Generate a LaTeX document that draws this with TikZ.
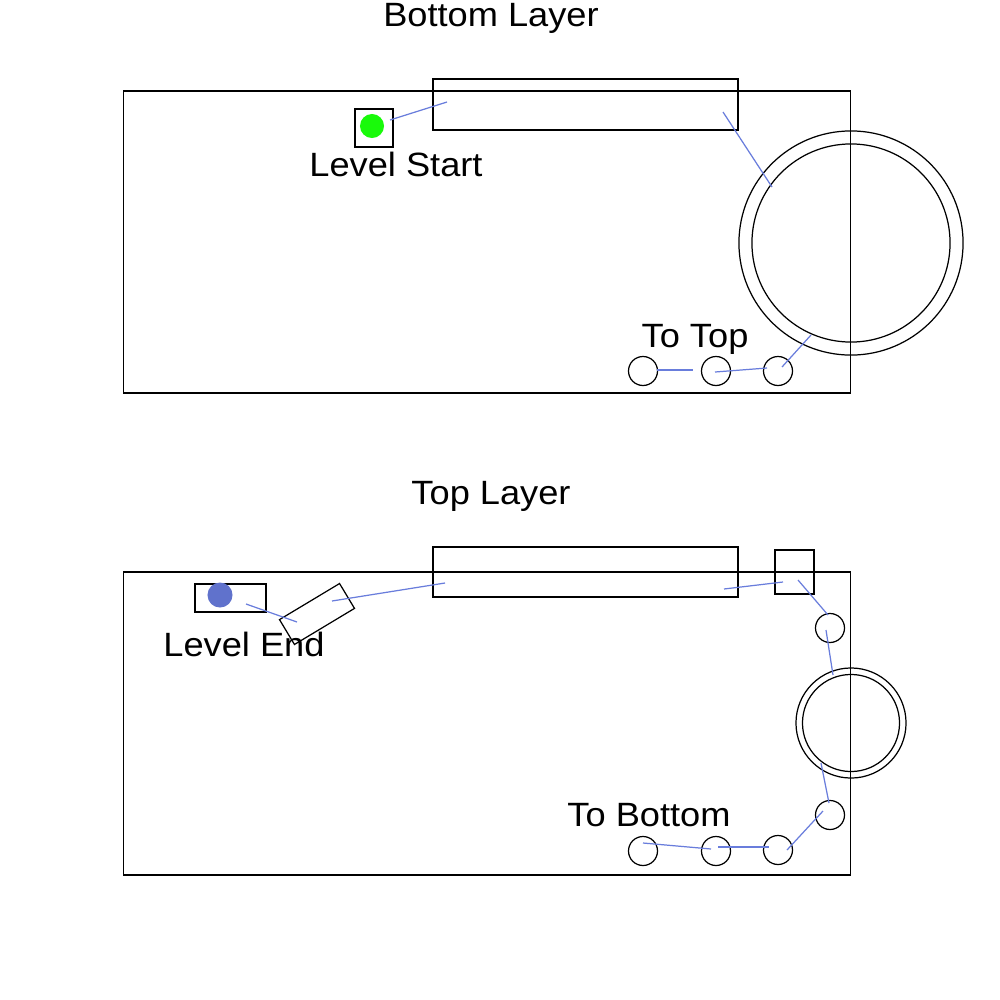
\documentclass[tikz,border=0pt]{standalone}
\usepackage{fontspec}
\setmainfont{Liberation Sans}
\definecolor{linkblue}{RGB}{105,125,220}
\definecolor{startgreen}{RGB}{25,250,10}
\definecolor{endblue}{RGB}{96,114,204}
\newcommand{\lbltext}[1]{\scalebox{1}[0.93]{#1}}
\begin{document}
\begin{tikzpicture}[x=0.01cm,y=-0.01cm,
  box/.style={draw,line width=0.35pt,inner sep=0pt,outer sep=0pt},
  ring/.style={draw,circle,line width=0.35pt,inner sep=0pt,outer sep=0pt},
  dot/.style={fill,circle,inner sep=0pt,minimum size=#1},
  lbl/.style={inner sep=0pt,anchor=base,font=\fontsize{10.3}{12}\selectfont},
  link/.style={draw=linkblue,line width=0.35pt}]
\useasboundingbox[fill=white] (0,0) rectangle (1000,1000);

% ---------------- Bottom layer ----------------
\node[lbl] (tbot) at (491,27) {\lbltext{Bottom Layer}};
\node[box,minimum width=7.26cm,minimum height=3.02cm] (bframe) at (487,242) {};
\node[box,minimum width=3.05cm,minimum height=0.51cm] (bbar) at (585.5,104.5) {};
\node[box,minimum width=0.38cm,minimum height=0.38cm] (bsq) at (374,128) {};
\node[dot=0.24cm,startgreen] (bstart) at (372,126) {};
\node[lbl] (lstart) at (396,176) {\lbltext{Level Start}};
\node[ring,minimum size=2.24cm] (bringo) at (851,243) {};
\node[ring,minimum size=1.98cm] (bringi) at (851,243) {};
\node[ring,minimum size=0.29cm] (bc1) at (643,371) {};
\node[ring,minimum size=0.29cm] (bc2) at (716,371) {};
\node[ring,minimum size=0.29cm] (bc3) at (778,371) {};
\node[lbl] (ltop) at (695,347) {\lbltext{To Top}};

\coordinate (b1a) at (390,120); \coordinate (b1b) at (447,102);
\coordinate (b2a) at (723,112); \coordinate (b2b) at (772,187);
\coordinate (b3a) at (657,370); \coordinate (b3b) at (693,370);
\coordinate (b4a) at (715,372); \coordinate (b4b) at (767,368);
\coordinate (b5a) at (782,367); \coordinate (b5b) at (811,335);
\draw[link] (b1a) -- (b1b);
\draw[link] (b2a) -- (b2b);
\draw[link] (b3a) -- (b3b);
\draw[link] (b4a) -- (b4b);
\draw[link] (b5a) -- (b5b);

% ---------------- Top layer ----------------
\node[lbl] (ttop) at (491,504) {\lbltext{Top Layer}};
\node[box,minimum width=7.26cm,minimum height=3.03cm] (tframe) at (487,723.5) {};
\node[box,minimum width=3.05cm,minimum height=0.50cm] (tbar) at (585.5,572) {};
\node[box,minimum width=0.39cm,minimum height=0.44cm] (tsq) at (794.5,572) {};
\node[box,minimum width=0.71cm,minimum height=0.28cm] (endbox) at (230.5,598) {};
\node[dot=0.25cm,endblue] (tend) at (220,595) {};
\node[box,minimum width=0.70cm,minimum height=0.29cm,rotate=31] (tilt) at (317,614) {};
\node[lbl] (lend) at (244,656) {\lbltext{Level End}};
\node[ring,minimum size=0.29cm] (tc1) at (830,628) {};
\node[ring,minimum size=1.10cm] (tringo) at (851,723) {};
\node[ring,minimum size=0.97cm] (tringi) at (851,723) {};
\node[ring,minimum size=0.29cm] (tc2) at (830,815) {};
\node[ring,minimum size=0.29cm] (tc3) at (778,850) {};
\node[ring,minimum size=0.29cm] (tc4) at (716,851) {};
\node[ring,minimum size=0.29cm] (tc5) at (643,851) {};
\node[lbl] (lbot) at (649,826) {\lbltext{To Bottom}};

\coordinate (t1a) at (246,604); \coordinate (t1b) at (297,622);
\coordinate (t2a) at (332,601); \coordinate (t2b) at (445,583);
\coordinate (t3a) at (724,589); \coordinate (t3b) at (783,582);
\coordinate (t4a) at (798,580); \coordinate (t4b) at (828,615);
\coordinate (t5a) at (826,630); \coordinate (t5b) at (833,675);
\coordinate (t6a) at (821,763); \coordinate (t6b) at (829,803);
\coordinate (t7a) at (823,811); \coordinate (t7b) at (787,850);
\coordinate (t8a) at (718,847); \coordinate (t8b) at (769,847);
\coordinate (t9a) at (643,843); \coordinate (t9b) at (711,849);
\draw[link] (t1a) -- (t1b);
\draw[link] (t2a) -- (t2b);
\draw[link] (t3a) -- (t3b);
\draw[link] (t4a) -- (t4b);
\draw[link] (t5a) -- (t5b);
\draw[link] (t6a) -- (t6b);
\draw[link] (t7a) -- (t7b);
\draw[link] (t8a) -- (t8b);
\draw[link] (t9a) -- (t9b);
\end{tikzpicture}
\end{document}
